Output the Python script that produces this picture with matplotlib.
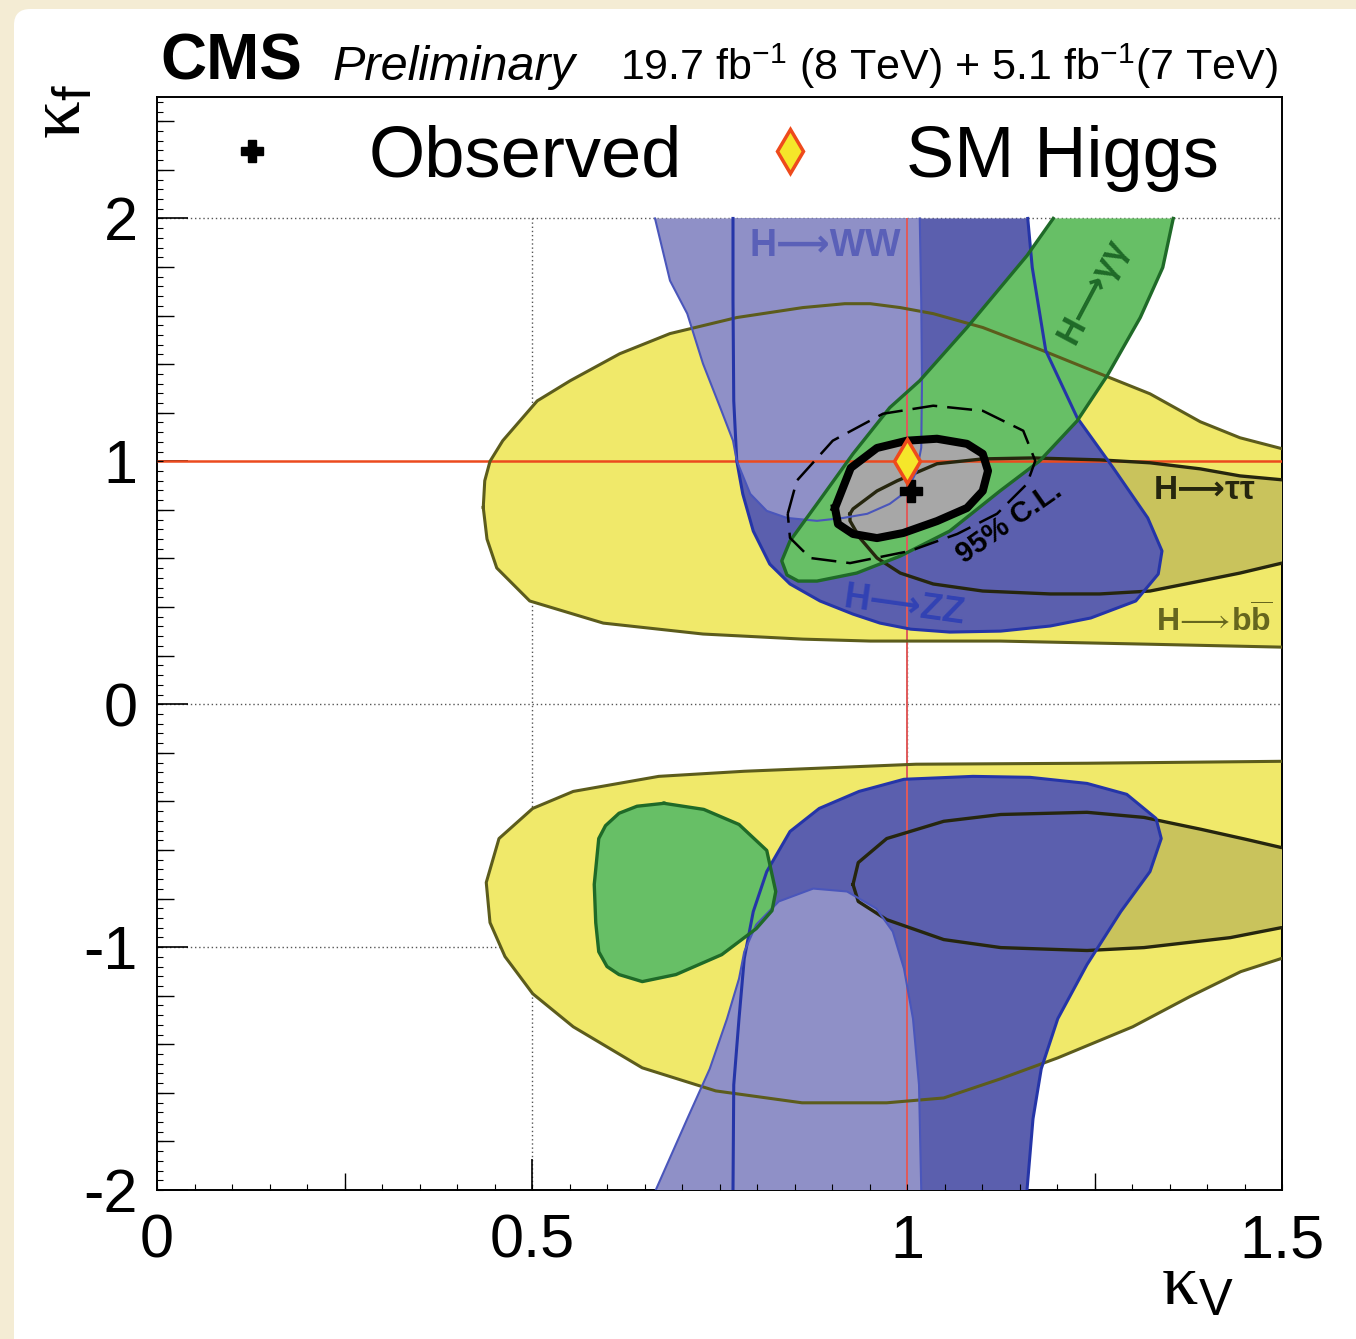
import numpy as np
import matplotlib
matplotlib.use("Agg")
import matplotlib.pyplot as plt
from matplotlib.lines import Line2D
from matplotlib.patches import FancyBboxPatch

plt.rcParams['font.family'] = ['Liberation Sans', 'DejaVu Sans']
plt.rcParams['mathtext.fontset'] = 'custom'
plt.rcParams['mathtext.rm'] = 'Liberation Serif'
plt.rcParams['mathtext.sf'] = 'Liberation Sans'
plt.rcParams['mathtext.bf'] = 'Liberation Sans:bold'
plt.rcParams['mathtext.it'] = 'Liberation Sans:italic'

# 95% CL regions in the (kappa_V, kappa_f) plane, one list pair per channel
# --- kappa_f > 0 branch ---
bb_up_kv = [0.435, 0.437, 0.444, 0.461, 0.484, 0.507, 0.551, 0.617, 0.684, 0.773, 0.861, 0.917,
            0.951, 0.991, 1.035, 1.101, 1.181, 1.257, 1.324, 1.391, 1.444, 1.500, 1.560,
            1.560, 1.500, 1.324, 1.124, 0.951, 0.861, 0.728, 0.595, 0.497, 0.453, 0.440]
bb_up_kf = [0.810, 0.920, 1.000, 1.085, 1.167, 1.249, 1.332, 1.443, 1.526, 1.592, 1.633, 1.649,
            1.649, 1.633, 1.608, 1.551, 1.456, 1.361, 1.278, 1.163, 1.097, 1.052, 1.020,
            0.230, 0.235, 0.247, 0.260, 0.260, 0.268, 0.289, 0.334, 0.425, 0.561, 0.680]

tt_up_kv = [0.924, 0.928, 0.960, 0.987, 1.040, 1.101, 1.168, 1.257, 1.324, 1.391, 1.444, 1.500,
            1.560, 1.560, 1.500, 1.444, 1.391, 1.324, 1.257, 1.191, 1.101, 1.035, 0.991,
            0.960, 0.937, 0.924]
tt_up_kf = [0.784, 0.804, 0.878, 0.920, 0.990, 1.010, 1.014, 1.006, 0.994, 0.969, 0.940, 0.924,
            0.905, 0.560, 0.581, 0.540, 0.507, 0.466, 0.454, 0.454, 0.466, 0.495, 0.540,
            0.602, 0.685, 0.755]

zz_up_kv = [0.768, 0.768, 0.769, 0.773, 0.781, 0.795, 0.817, 0.844, 0.884, 0.928, 0.964, 1.005,
            1.057, 1.125, 1.191, 1.245, 1.305, 1.335, 1.340, 1.321, 1.275, 1.227, 1.185,
            1.167, 1.161]
zz_up_kf = [2.000, 1.662, 1.249, 1.002, 0.866, 0.713, 0.577, 0.495, 0.425, 0.371, 0.334, 0.309,
            0.297, 0.301, 0.322, 0.355, 0.425, 0.536, 0.631, 0.767, 0.973, 1.179, 1.456,
            1.798, 2.000]

ww_up_kv = [0.664, 0.684, 0.707, 0.728, 0.751, 0.768, 0.773, 0.791, 0.813, 0.840, 0.880, 0.915,
            0.947, 0.977, 1.000, 1.013, 1.019, 1.020, 1.019, 1.017]
ww_up_kf = [2.000, 1.744, 1.608, 1.402, 1.221, 1.085, 1.002, 0.866, 0.796, 0.767, 0.755, 0.767,
            0.784, 0.825, 0.878, 0.961, 1.056, 1.332, 1.662, 2.000]

gg_up_kv = [1.355, 1.341, 1.311, 1.267, 1.227, 1.177, 1.124, 1.057, 0.991, 0.933, 0.880, 0.855,
            0.840, 0.833, 0.844, 0.880, 0.928, 0.977, 1.017, 1.080, 1.160, 1.195]
gg_up_kf = [2.000, 1.798, 1.592, 1.353, 1.167, 1.002, 0.878, 0.713, 0.610, 0.540, 0.507, 0.507,
            0.532, 0.590, 0.672, 0.825, 1.031, 1.221, 1.332, 1.551, 1.847, 2.000]

# --- kappa_f < 0 branch ---
bb_lo_kv = [1.560, 1.499, 1.240, 1.012, 0.783, 0.669, 0.555, 0.501, 0.456, 0.439, 0.444, 0.464,
            0.501, 0.555, 0.647, 0.745, 0.860, 0.973, 1.049, 1.125, 1.201, 1.301, 1.377,
            1.445, 1.499, 1.560]
bb_lo_kf = [-0.235, -0.235, -0.243, -0.247, -0.276, -0.297, -0.359, -0.429, -0.553, -0.734,
            -0.899, -1.039, -1.192, -1.328, -1.497, -1.592, -1.641, -1.641, -1.621, -1.542,
            -1.456, -1.328, -1.204, -1.101, -1.047, -1.030]

tt_lo_kv = [0.928, 0.935, 0.973, 1.049, 1.125, 1.240, 1.316, 1.392, 1.453, 1.499, 1.560,
            1.560, 1.499, 1.431, 1.316, 1.240, 1.125, 1.049, 0.973, 0.935]
tt_lo_kf = [-0.742, -0.652, -0.553, -0.482, -0.454, -0.445, -0.466, -0.515, -0.557, -0.590,
            -0.610, -0.930, -0.920, -0.961, -1.002, -1.014, -1.002, -0.969, -0.887, -0.812]

zz_lo_kv = [0.768, 0.769, 0.776, 0.783, 0.795, 0.813, 0.844, 0.883, 0.936, 0.996, 1.088, 1.164,
            1.240, 1.293, 1.332, 1.339, 1.324, 1.285, 1.240, 1.201, 1.179, 1.168, 1.160]
zz_lo_kf = [-2.000, -1.567, -1.295, -1.047, -0.854, -0.689, -0.524, -0.429, -0.359, -0.309,
            -0.297, -0.301, -0.326, -0.371, -0.470, -0.553, -0.689, -0.854, -1.072, -1.295,
            -1.501, -1.707, -2.000]

ww_lo_kv = [0.665, 0.707, 0.737, 0.760, 0.776, 0.783, 0.799, 0.829, 0.875, 0.920, 0.959, 0.981,
            0.996, 1.008, 1.016, 1.019]
ww_lo_kf = [-2.000, -1.707, -1.501, -1.295, -1.130, -1.019, -0.907, -0.812, -0.759, -0.771,
            -0.841, -0.936, -1.089, -1.295, -1.567, -2.000]

gg_lo_kv = [0.676, 0.640, 0.616, 0.598, 0.589, 0.583, 0.585, 0.589, 0.600, 0.616, 0.647, 0.692,
            0.753, 0.799, 0.820, 0.825, 0.813, 0.776, 0.729]
gg_lo_kf = [-0.408, -0.420, -0.449, -0.500, -0.553, -0.742, -0.900, -1.019, -1.080, -1.113,
            -1.142, -1.113, -1.031, -0.924, -0.850, -0.771, -0.602, -0.495, -0.433]

# combined fit: 68% (solid) and 95% (dashed) CL contours
cl68_kv = [0.904, 0.925, 0.960, 1.000, 1.040, 1.080, 1.101, 1.108, 1.101, 1.080, 1.040, 0.995,
           0.960, 0.928, 0.908]
cl68_kf = [0.808, 0.973, 1.055, 1.085, 1.093, 1.072, 1.031, 0.961, 0.878, 0.808, 0.754, 0.705,
           0.684, 0.701, 0.742]
cl95_kv = [0.841, 0.853, 0.901, 0.968, 1.035, 1.101, 1.155, 1.171, 1.160, 1.120, 1.067, 1.004,
           0.924, 0.871, 0.844]
cl95_kf = [0.784, 0.920, 1.085, 1.196, 1.229, 1.208, 1.126, 1.002, 0.907, 0.784, 0.701, 0.631,
           0.581, 0.602, 0.685]

obs_kv, obs_kf = 1.005, 0.878
sm_kv, sm_kf = 1.0, 1.0

xticks = [0, 0.5, 1, 1.5]
xtick_labels = ['0', '0.5', '1', '1.5']
yticks = [-2, -1, 0, 1, 2]
ytick_labels = ['-2', '-1', '0', '1', '2']

W, H = 1356, 1339
fig = plt.figure(figsize=(W / 100, H / 100), dpi=100, facecolor='#f4ecd4')
fig.patches.append(FancyBboxPatch((14 / W, -0.02), 1.0, 1 - 9 / H + 0.02,
                                  boxstyle='round,pad=0,rounding_size=0.012',
                                  transform=fig.transFigure, fc='white', ec='none',
                                  zorder=-5))

ax = fig.add_axes([157 / W, 1 - 1190 / H, 1125 / W, 1093 / H])
ax.set_xlim(0, 1.5)
ax.set_ylim(-2, 2.5)

# dotted grid, only inside the scanned range
ax.hlines([-1, 0, 2], 0, 1.5, colors='#555555', linestyles=(0, (1, 2)), lw=1.0, zorder=1)
ax.vlines([0.5, 1.0], -2, 2, colors='#555555', linestyles=(0, (1, 2)), lw=1.0, zorder=1)

YEL, YEL_E = '#f0e96a', '#5c5c1c'
TAU, TAU_E = '#c9c35c', '#26260e'
ZZC, ZZ_E = '#5b5fae', '#2535a8'
WWC, WW_E = '#8f90c7', '#4a56bb'
GRN, GRN_E = '#67bf66', '#1f6a28'


def region(kv, kf, face, edge, lw, z, closed=True):
    ax.fill(kv, kf, color=face, lw=0, zorder=z)
    if closed:
        kv = kv + kv[:1]
        kf = kf + kf[:1]
    ax.plot(kv, kf, color=edge, lw=lw, zorder=9, solid_joinstyle='round')


region(bb_up_kv, bb_up_kf, YEL, YEL_E, 2.2, 2)
region(bb_lo_kv, bb_lo_kf, YEL, YEL_E, 2.2, 2)
region(tt_up_kv, tt_up_kf, TAU, TAU_E, 2.4, 3)
region(tt_lo_kv, tt_lo_kf, TAU, TAU_E, 2.4, 3)
region(zz_up_kv, zz_up_kf, ZZC, ZZ_E, 2.2, 4, closed=False)
region(zz_lo_kv, zz_lo_kf, ZZC, ZZ_E, 2.2, 4, closed=False)
region(ww_up_kv, ww_up_kf, WWC, WW_E, 1.5, 5, closed=False)
region(ww_lo_kv, ww_lo_kf, WWC, WW_E, 1.5, 5, closed=False)
region(gg_up_kv, gg_up_kf, GRN, GRN_E, 2.4, 6, closed=False)
region(gg_lo_kv, gg_lo_kf, GRN, GRN_E, 2.4, 6)

ax.fill(cl68_kv, cl68_kf, color='#a7a7a7', lw=0, zorder=7)

# SM reference lines
ax.hlines(sm_kf, 0, 1.5, color='#ec4a1e', lw=1.8, zorder=8)
ax.vlines(sm_kv, -2, 2, color='#e05a5a', lw=1.4, zorder=8)

ax.plot(cl68_kv + cl68_kv[:1], cl68_kf + cl68_kf[:1], color='black', lw=5.8, zorder=10,
        solid_joinstyle='round')
ax.plot(cl95_kv + cl95_kv[:1], cl95_kf + cl95_kf[:1], color='black', lw=1.8, zorder=10,
        dashes=(10, 4))

ax.plot([obs_kv], [obs_kf], marker='P', color='black', ms=16, ls='none', zorder=12)
ax.plot([sm_kv], [sm_kf], marker='d', mfc='#f5e62a', mec='#ee4a1c', mew=2.5, ms=22,
        ls='none', zorder=12)

# channel labels
lab = dict(fontweight='bold', ha='center', va='center', zorder=13,
           family=['Liberation Sans', 'DejaVu Sans'])
ax.text(0.891, 1.885, 'H⟶WW', color='#5a60b8', fontsize=27, **lab)
ax.text(1.248, 1.703, 'H⟶γγ', color='#1f6a28', fontsize=25, rotation=62, **lab)
ax.text(1.397, 0.878, 'H⟶ττ', color='#26260e', fontsize=24, **lab)
ax.text(1.409, 0.342, r'$\mathbf{H}\!\longrightarrow\!\mathbf{b}\overline{\mathbf{b}}$',
        color='#66661e', fontsize=23, **lab)
ax.text(0.996, 0.404, 'H⟶ZZ', color='#3242b4', fontsize=26, rotation=-8, **lab)
ax.text(1.137, 0.746, '95% C.L.', color='black', fontsize=21, rotation=35, **lab)

# axes and ticks
ax.set_xticks(xticks)
ax.set_xticklabels(xtick_labels)
ax.set_yticks(yticks)
ax.set_yticklabels(ytick_labels)
ax.set_xticks(np.arange(0, 1.51, 0.25), minor=True)
ax.set_yticks(np.arange(-2, 2.51, 0.2), minor=True)
ax.tick_params(which='major', direction='in', length=22, width=1.2, top=False, right=False,
               labelsize=44)
ax.tick_params(which='minor', direction='in', length=12, width=1.0, top=False, right=False)
ax.tick_params(axis='y', which='major', pad=14)
ax.tick_params(axis='x', which='major', pad=17)
for s in ax.spines.values():
    s.set_linewidth(1.4)

# fine ruler ticks along the left and bottom axes
ax2 = fig.add_axes(ax.get_position(), frameon=False)
ax2.set_xlim(ax.get_xlim())
ax2.set_ylim(ax.get_ylim())
ax2.patch.set_visible(False)
ax2.set_xticks(np.arange(0, 1.51, 0.05))
ax2.set_yticks(np.arange(-2, 2.51, 0.04))
ax2.tick_params(direction='in', length=4, width=0.8, labelbottom=False, labelleft=False,
                top=False, right=False)

# legend row above the scanned region
handles = [Line2D([], [], marker='P', color='black', ms=16, ls='none'),
           Line2D([], [], marker='d', mfc='#f5e62a', mec='#ee4a1c', mew=2.5, ms=22, ls='none')]
ax.legend(handles, ['Observed', 'SM Higgs'], ncol=2, frameon=False, fontsize=52,
          handlelength=2.0, handletextpad=0.61, columnspacing=0.5, borderpad=0,
          borderaxespad=0, loc='center left', bbox_to_anchor=(180 / W, 1 - 158 / H),
          bbox_transform=fig.transFigure)

# header
fig.text(160 / W, 1 - 80 / H, 'CMS', fontsize=46, fontweight='bold', va='baseline')
fig.text(333 / W, 1 - 80 / H, 'Preliminary', fontsize=35, style='italic', va='baseline')
fig.text(1278 / W, 1 - 80 / H,
         r'19.7 fb$^{\mathsf{-1}}$ (8 TeV) + 5.1 fb$^{\mathsf{-1}}$(7 TeV)',
         fontsize=31, ha='right', va='baseline')

# axis titles
fig.text(1234 / W, 1 - 1305 / H, r'$\mathrm{\kappa}_{\mathsf{V}}$', fontsize=52,
         ha='right', va='baseline')
fig.text(26 / W, 1 - 84 / H, r'$\mathrm{\kappa}_{\mathsf{f}}$', fontsize=54,
         rotation=90, ha='left', va='top')

fig.savefig('out.png', dpi=100, facecolor=fig.get_facecolor())
